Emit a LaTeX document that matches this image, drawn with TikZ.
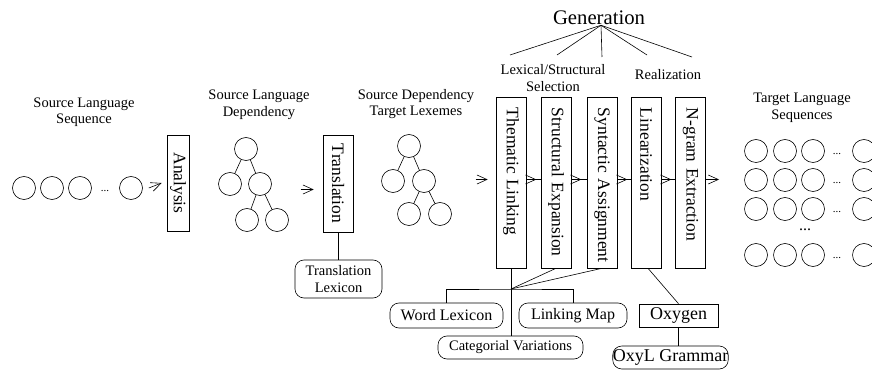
\documentclass[tikz,border=0pt]{standalone}
\usepackage{fontspec}
\setmainfont{Liberation Serif}
\usetikzlibrary{arrows.meta,decorations.markings}

\begin{document}
\begin{tikzpicture}[x=1pt, y=-1pt, semithick,
	ball/.style={draw, circle, minimum size=23pt, inner sep=0pt},
	caption/.style={align=center, inner sep=0pt, font=\fontsize{14.5}{16.5}\selectfont},
	stagebox/.style={draw, rotate=-90, minimum height=30pt, text width=171pt, inner xsep=0pt, inner ysep=0pt, align=left, execute at begin node=\hspace*{11pt}, font=\fontsize{17.5}{20}\selectfont},
	lexbox/.style={draw, rounded corners=9pt, inner sep=0pt, align=center},
	arr/.style={-{Straight Barb[length=10pt, width=9pt]}},
	midarr/.style={postaction={decorate}, decoration={markings, mark=at position 10pt with {\arrow{Straight Barb[length=10pt, width=9pt]}}}},
	smalldots/.style={inner sep=0pt, font=\fontsize{11}{13}\selectfont}]
	\path[use as bounding box] (0,0) rectangle (872,371);

	\node[caption] (srcseqlbl) at (84,112) {Source Language\\Sequence};
	\node[ball] (s1) at (24,188) {};
	\node[ball] (s2) at (52,188) {};
	\node[ball] (s3) at (80,188) {};
	\node[smalldots] (sdots) at (105,191) {...};
	\node[ball] (s4) at (131,188) {};

	\node[draw, rotate=-90, minimum width=96pt, minimum height=22pt, inner sep=0pt, font=\fontsize{17.5}{20}\selectfont] (analysis) at (178,183) {Analysis};
	% rotated nodes: south = left side, north = right side, east = bottom
	\draw[arr] ([xshift=6pt]s4.east) -- ([xshift=-5pt]analysis.south);

	\node[caption] (srcdeplbl) at (259,105) {Source Language\\Dependency};
	\node[ball] (ta) at (246,149) {};
	\node[ball] (tb) at (230,184) {};
	\node[ball] (tc) at (260,184) {};
	\node[ball] (td) at (247,220) {};
	\node[ball] (te) at (277,220) {};
	\draw (ta) -- (tb);
	\draw (ta) -- (tc);
	\draw (tc) -- (td);
	\draw (tc) -- (te);

	\node[draw, rotate=-90, minimum width=97pt, minimum height=30pt, inner sep=0pt, font=\fontsize{17.5}{20}\selectfont] (translation) at (338,183.5) {Translation};
	\draw[arr] ([xshift=-22pt, yshift=-6pt]translation.south) -- ([xshift=-9pt, yshift=-6pt]translation.south);
	\node[lexbox, minimum width=87pt, minimum height=38pt, font=\fontsize{14.5}{16.5}\selectfont] (translex) at (338.5,279) {Translation\\Lexicon};
	\draw (translation.east) -- (translation.east |- translex.north);

	\node[caption] (tgtlexlbl) at (416,104) {Source Dependency\\Target Lexemes};
	\node[ball] (ua) at (409,146) {};
	\node[ball] (ub) at (393,181) {};
	\node[ball] (uc) at (424,181) {};
	\node[ball] (ud) at (409,214) {};
	\node[ball] (ue) at (440,214) {};
	\draw (ua) -- (ub);
	\draw (ua) -- (uc);
	\draw (uc) -- (ud);
	\draw (uc) -- (ue);

	\node[font=\fontsize{20.7}{24}\selectfont, inner sep=0pt] (gen) at (599,18) {Generation};
	\foreach \gx/\gy in {510/55, 557/55, 602/57, 647/55, 692/57} {
		\coordinate (genend) at (\gx,\gy);
		\draw ([xshift=2pt]gen.south) -- (genend);
	}
	\node[caption] (lexsel) at (553,78) {Lexical/Structural\\Selection};
	\node[caption] (realiz) at (668,75) {Realization};

	\node[stagebox] (thematic) at (511,182.5) {Thematic Linking};
	\node[stagebox] (structural) at (556,182.5) {Structural Expansion};
	\node[stagebox] (syntactic) at (602,182.5) {Syntactic Assignment};
	\node[stagebox] (linear) at (646,182.5) {Linearization};
	\node[stagebox] (ngram) at (690.5,182.5) {N-gram Extraction};

	\draw[arr] ([xshift=-20pt, yshift=3pt]thematic.south) -- ([xshift=-8pt, yshift=3pt]thematic.south);
	\draw[midarr] ([yshift=3pt]thematic.north) -- ([yshift=3pt]structural.south);
	\draw[midarr] ([yshift=3pt]structural.north) -- ([yshift=3pt]syntactic.south);
	\draw[midarr] ([yshift=3pt]syntactic.north) -- ([yshift=3pt]linear.south);
	\draw[midarr] ([yshift=3pt]linear.north) -- ([yshift=3pt]ngram.south);
	\coordinate (ngout) at (719,179.5);
	\draw[arr] ([yshift=3pt]ngram.north) -- (ngout);

	\node[lexbox, minimum width=113pt, minimum height=25pt, font=\fontsize{16}{18}\selectfont] (wordlex) at (446.5,315.5) {Word Lexicon};
	\node[lexbox, minimum width=108pt, minimum height=25pt, font=\fontsize{16}{18}\selectfont] (linkmap) at (573,315.5) {Linking Map};
	\node[lexbox, minimum width=145pt, minimum height=23pt, font=\fontsize{14.5}{16.5}\selectfont] (catvar) at (510.5,347.5) {Categorial Variations};
	\coordinate (hub) at (511,289);
	\draw (thematic.east) -- (hub);
	\draw (structural.east) -- (hub);
	\draw (syntactic.east) -- (hub);
	\draw (hub) -- (hub |- catvar.north);
	\draw (wordlex.north) |- (hub) -| (linkmap.north);

	\node[draw, minimum width=79pt, minimum height=23pt, inner sep=0pt, font=\fontsize{18}{20}\selectfont] (oxygen) at (678.5,315.5) {Oxygen};
	\node[lexbox, minimum width=95pt, minimum height=23pt, font=\fontsize{18}{20}\selectfont] (oxyl) at (670.5,357.5) {OxyL Grammar};
	\draw ([xshift=2pt]linear.east) -- (oxygen.north);
	\draw (oxygen.south) -- (oxygen.south |- oxyl.north);

	\node[caption] (tgtseqlbl) at (802,108) {Target Language\\Sequences};
	\foreach \ry [count=\r] in {151,180,209,255} {
		\foreach \cx [count=\c] in {756,785,813,864}
			\node[ball] (t\r\c) at (\cx,\ry) {};
		\node[smalldots] (tdots\r) at (837,\ry+3) {...};
	}
	\node[inner sep=0pt, font=\fontsize{16}{18}\selectfont] (vdots) at (805,230) {...};

\end{tikzpicture}
\end{document}
